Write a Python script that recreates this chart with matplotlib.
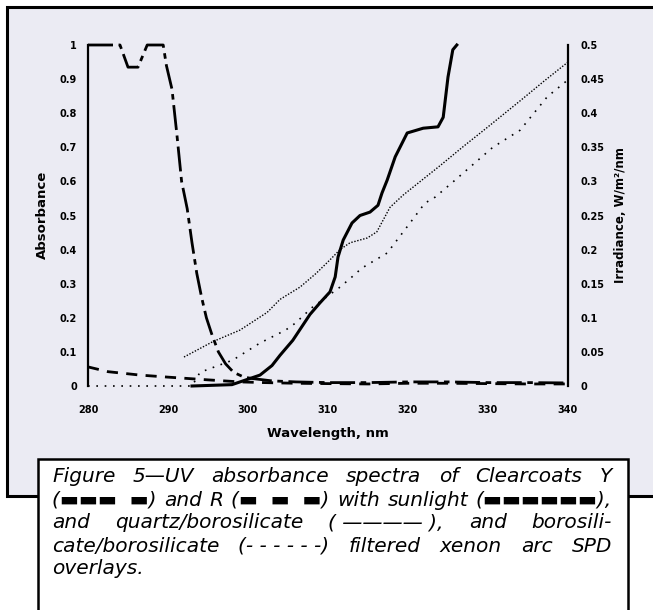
import numpy as np
import matplotlib
matplotlib.use('Agg')
import matplotlib.pyplot as plt
from matplotlib.patches import Rectangle

# Clearcoat Y absorbance (left axis)
wl_y = [280, 284, 285, 286.25, 287.4, 289.4, 289.8, 290.5, 291.1, 291.7, 292.4, 293, 293.6,
        294.2, 294.8, 295.5, 296.3, 297.2, 298.2, 299.5, 300.5, 303, 306, 310, 315, 320,
        325, 330, 335, 340]
abs_y = [1, 1, 0.935, 0.935, 1, 1, 0.94, 0.87, 0.74, 0.6, 0.52, 0.42, 0.33,
         0.26, 0.2, 0.15, 0.1, 0.065, 0.04, 0.026, 0.022, 0.015, 0.012, 0.01, 0.01, 0.012,
         0.012, 0.01, 0.01, 0.009]

# Clearcoat R absorbance (left axis)
wl_r = [280, 282.5, 286.5, 290, 295, 299, 302, 306, 310, 315, 320, 325, 330, 335, 340]
abs_r = [0.056, 0.042, 0.032, 0.026, 0.018, 0.012, 0.01, 0.008, 0.007, 0.006, 0.008,
         0.008, 0.007, 0.006, 0.006]

# sunlight irradiance (right axis)
wl_sun = [293, 298, 299.5, 301.5, 303, 304, 305.6, 307.75, 309, 310.25, 310.9, 311.25,
          311.9, 313, 314, 315.25, 316.25, 316.75, 317.4, 318.4, 319.9, 321.9, 323.75,
          324.4, 325, 325.6, 326.1]
irr_sun = [0, 0.002, 0.008, 0.016, 0.03, 0.045, 0.067, 0.105, 0.122, 0.138, 0.16, 0.189,
           0.214, 0.239, 0.25, 0.255, 0.265, 0.283, 0.302, 0.336, 0.371, 0.378, 0.38,
           0.394, 0.453, 0.493, 0.5]

# quartz/borosilicate filtered xenon arc (right axis)
wl_qb = [292, 295.6, 299, 302.4, 304, 306.5, 308.5, 310.25, 311.5, 312.75, 314.9, 316.1,
         317.75, 319.4, 321, 324, 327, 330, 334, 337, 340]
irr_qb = [0.0425, 0.065, 0.082, 0.108, 0.127, 0.145, 0.165, 0.185, 0.2, 0.21, 0.217, 0.226,
          0.262, 0.28, 0.295, 0.323, 0.352, 0.38, 0.418, 0.447, 0.475]

# borosilicate/borosilicate filtered xenon arc (right axis)
wl_bb = [280, 293, 294, 298.1, 301.5, 304.7, 305.9, 308, 311.5, 313, 314.25, 316.1, 317.4,
         319.6, 320.25, 322.1, 323.4, 325.6, 330.6, 334, 337.4, 340]
irr_bb = [0, 0, 0.02, 0.038, 0.063, 0.082, 0.092, 0.115, 0.145, 0.16, 0.173, 0.186, 0.195,
          0.229, 0.239, 0.268, 0.277, 0.299, 0.35, 0.375, 0.424, 0.449]

x_ticks = [280, 290, 300, 310, 320, 330, 340]
left_ticks = [0, 0.1, 0.2, 0.3, 0.4, 0.5, 0.6, 0.7, 0.8, 0.9, 1]
left_labels = ['0', '0.1', '0.2', '0.3', '0.4', '0.5', '0.6', '0.7', '0.8', '0.9', '1']
right_ticks = [0, 0.05, 0.1, 0.15, 0.2, 0.25, 0.3, 0.35, 0.4, 0.45, 0.5]
right_labels = ['0', '0.05', '0.1', '0.15', '0.2', '0.25', '0.3', '0.35', '0.4', '0.45', '0.5']

caption_lines = [
    'Figure 5\u2014UV absorbance spectra of Clearcoats Y',
    '(\u25ac\u25ac\u25ac\u00a0\u00a0\u25ac) and R (\u25ac\u00a0\u00a0\u25ac\u00a0\u00a0\u25ac) with sunlight (\u25ac\u25ac\u25ac\u25ac\u25ac\u25ac),',
    'and quartz/borosilicate (\u00a0\u2014\u2014\u2014\u2014\u00a0), and borosili-',
    'cate/borosilicate (-\u00a0-\u00a0-\u00a0-\u00a0-\u00a0-) filtered xenon arc SPD',
    'overlays.',
]

W, H = 653, 610
panel_color = '#ebebf3'

fig = plt.figure(figsize=(W / 100, H / 100), dpi=100)

# lavender panel and white caption box
fig.patches.append(Rectangle((7 / W, 1 - 496 / H), 700 / W, 489 / H, transform=fig.transFigure,
                             facecolor=panel_color, edgecolor='black', lw=2.2, zorder=-3))
fig.patches.append(Rectangle((38 / W, -0.05), 590 / W, 0.05 + 1 - 459 / H,
                             transform=fig.transFigure, facecolor='white',
                             edgecolor='black', lw=1.8, zorder=-2))

ax = fig.add_axes([88 / W, 1 - 386 / H, 480 / W, 341 / H])
ax.patch.set_visible(False)
ax2 = ax.twinx()
ax2.patch.set_visible(False)

ax.plot(wl_y, abs_y, color='black', lw=2.0, dashes=(9, 2, 2, 2), clip_on=False)
ax.plot(wl_r, abs_r, color='black', lw=2.0, dashes=(4, 3), clip_on=False)
ax2.plot(wl_sun, irr_sun, color='black', lw=2.2, clip_on=False)
ax2.plot(wl_qb, irr_qb, color='black', lw=1.0, dashes=(1, 1.2), clip_on=False)
ax2.plot(wl_bb, irr_bb, color='black', lw=1.2, dashes=(1, 4), clip_on=False)

ax.set_xlim(280, 340)
ax.set_ylim(0, 1)
ax2.set_ylim(0, 0.5)

for s in ['top', 'bottom', 'right']:
    ax.spines[s].set_visible(False)
for s in ['top', 'bottom', 'left']:
    ax2.spines[s].set_visible(False)
ax.spines['left'].set_linewidth(1.6)
ax2.spines['right'].set_linewidth(1.6)

ax.set_xticks(x_ticks)
ax.set_xticklabels([str(v) for v in x_ticks], fontsize=7, fontweight='bold')
ax.set_yticks(left_ticks)
ax.set_yticklabels(left_labels, fontsize=7, fontweight='bold')
ax2.set_yticks(right_ticks)
ax2.set_yticklabels(right_labels, fontsize=7, fontweight='bold')
ax.tick_params(axis='x', length=0, pad=14)
ax.tick_params(axis='y', length=0, pad=8)
ax2.tick_params(axis='y', length=0, pad=9)

fig.text(42 / W, 1 - 215 / H, 'Absorbance', rotation=90, ha='center', va='center',
         fontsize=9.5, fontweight='bold')
fig.text(328 / W, 1 - 433 / H, 'Wavelength, nm', ha='center', va='center',
         fontsize=9.5, fontweight='bold')
fig.text(620 / W, 1 - 215 / H, 'Irradiance, W/m\u00b2/nm', rotation=90, ha='center',
         va='center', fontsize=8.5, fontweight='bold')

# caption, justified line by line
renderer = fig.canvas.get_renderer()
x0, x1 = 52 / W, 612 / W
for i, line in enumerate(caption_lines):
    y = 1 - (477 + i * 23) / H
    words = line.split(' ')
    texts = [fig.text(0, y, w, fontsize=14.5, style='italic', va='center', zorder=3)
             for w in words]
    widths = [t.get_window_extent(renderer).width / W for t in texts]
    gap = 5 / W
    if i < len(caption_lines) - 1 and len(words) > 1:
        gap = max(gap, (x1 - x0 - sum(widths)) / (len(words) - 1))
    x = x0
    for t, w in zip(texts, widths):
        t.set_x(x)
        x += w + gap

fig.savefig('out.png', dpi=100)
